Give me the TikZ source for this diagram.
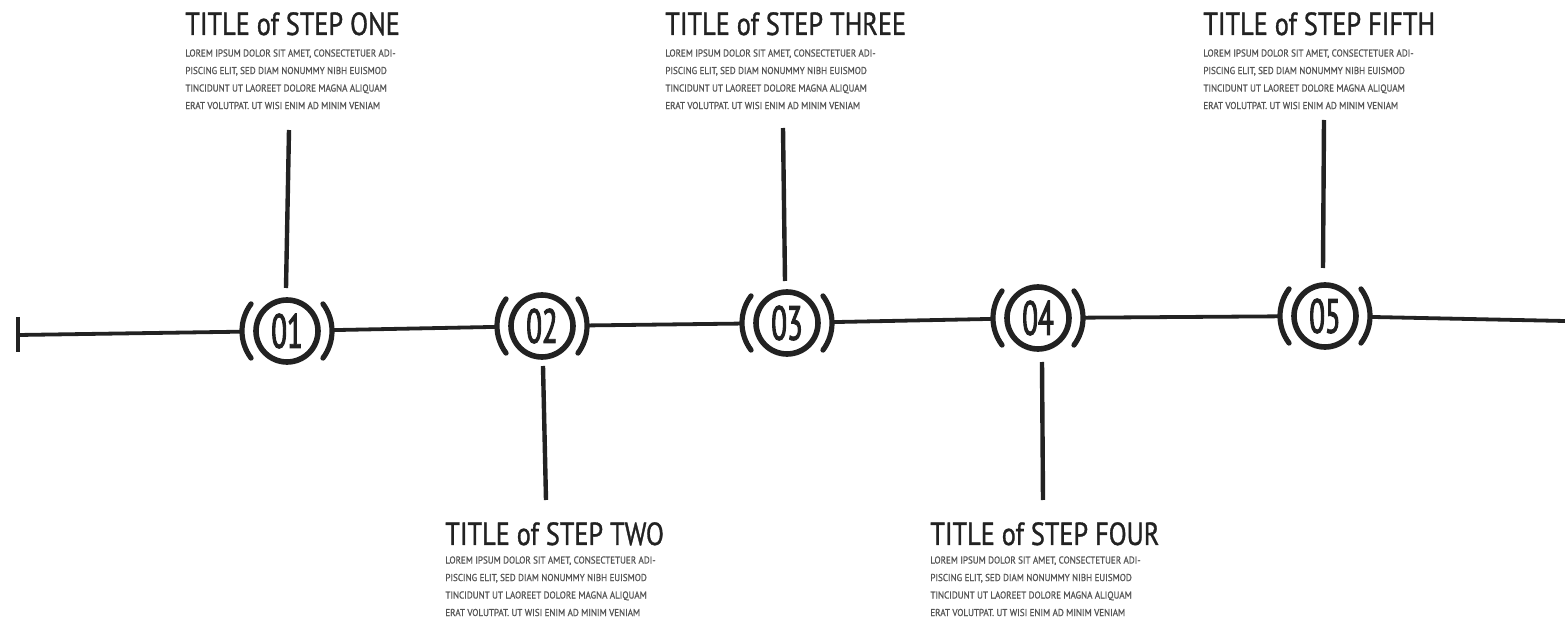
\documentclass[tikz,border=0pt]{standalone}
\usepackage{fontspec}
\newfontfamily\titlefont[FakeStretch=0.82,FakeBold=1]{PT Sans}
\newfontfamily\bodyfont[FakeStretch=0.9,FakeBold=0.8]{PT Sans}
\newfontfamily\numfont[FakeStretch=0.6,FakeBold=2]{PT Sans}
\definecolor{ink}{HTML}{222222}
\definecolor{bodyink}{HTML}{555555}
\begin{document}
\begin{tikzpicture}[x=0.5pt,y=-0.5pt,
  stepcircle/.style={circle, draw=ink, line width=2.8pt, minimum size=31pt, inner sep=0pt,
    font=\numfont\fontsize{24}{24}\selectfont, text=ink},
  paren/.style={draw=ink, line width=2.6pt, line cap=round},
  mainline/.style={draw=ink, line width=1.9pt, shorten <=6pt, shorten >=6pt},
  stem/.style={draw=ink, line width=2.2pt},
  titletext/.style={anchor=base west, inner sep=0pt, font=\titlefont\fontsize{16}{16}\selectfont, text=ink},
  bodytext/.style={anchor=north west, inner sep=0pt, align=left,
    font=\bodyfont\fontsize{5}{8.75}\selectfont, text=bodyink}]
\useasboundingbox (0,0) rectangle (1565,620);

% step circles
\node[stepcircle] (n1) at (287,331) {01};
\node[stepcircle] (n2) at (542,326) {02};
\node[stepcircle] (n3) at (787,323) {03};
\node[stepcircle] (n4) at (1038,318) {04};
\node[stepcircle] (n5) at (1325,316) {05};

% parentheses
\foreach \n in {n1,n2,n3,n4,n5}{
  \draw[paren] (\n.center) ++(143:45) arc[start angle=143, end angle=217, radius=45];
  \draw[paren] (\n.center) ++(-37:45) arc[start angle=-37, end angle=37, radius=45];
}

% main timeline
\coordinate (tick) at (18,335);
\coordinate (tickTop) at (18,317);
\coordinate (tickBot) at (18,352);
\coordinate (lineEnd) at (1565,321);
\draw[draw=ink, line width=2.2pt] (tickTop) -- (tickBot);
\draw[draw=ink, line width=1.9pt, shorten >=6pt] (tick) -- (n1);
\draw[mainline] (n1) -- (n2);
\draw[mainline] (n2) -- (n3);
\draw[mainline] (n3) -- (n4);
\draw[mainline] (n4) -- (n5);
\draw[draw=ink, line width=1.9pt, shorten <=6pt] (n5) -- (lineEnd);

% stems
\coordinate (s1a) at (289,130);  \coordinate (s1b) at (286,288);
\coordinate (s2a) at (543,366);  \coordinate (s2b) at (546,500);
\coordinate (s3a) at (783,128);  \coordinate (s3b) at (785,281);
\coordinate (s4a) at (1042,362); \coordinate (s4b) at (1043,500);
\coordinate (s5a) at (1324,120); \coordinate (s5b) at (1323,268);
\draw[stem] (s1a) -- (s1b);
\draw[stem] (s2a) -- (s2b);
\draw[stem] (s3a) -- (s3b);
\draw[stem] (s4a) -- (s4b);
\draw[stem] (s5a) -- (s5b);

% texts
\newcommand\lorem{LOREM IPSUM DOLOR SIT AMET, CONSECTETUER ADI-\\PISCING ELIT, SED DIAM NONUMMY NIBH EUISMOD\\TINCIDUNT UT LAOREET DOLORE MAGNA ALIQUAM\\ERAT VOLUTPAT. UT WISI ENIM AD MINIM VENIAM}
\node[titletext] (t1) at (185,35) {TITLE of STEP ONE};
\node[bodytext] (b1) at (185,49) {\lorem};
\node[titletext] (t2) at (445,545) {TITLE of STEP TWO};
\node[bodytext] (b2) at (445,556) {\lorem};
\node[titletext] (t3) at (665,35) {TITLE of STEP THREE};
\node[bodytext] (b3) at (665,49) {\lorem};
\node[titletext] (t4) at (930,545) {TITLE of STEP FOUR};
\node[bodytext] (b4) at (930,556) {\lorem};
\node[titletext] (t5) at (1203,35) {TITLE of STEP FIFTH};
\node[bodytext] (b5) at (1203,49) {\lorem};
\end{tikzpicture}
\end{document}
